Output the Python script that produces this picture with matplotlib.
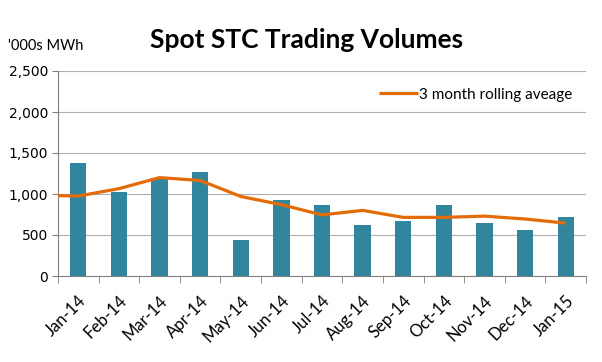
import matplotlib.pyplot as plt
import numpy as np

months = ['Jan-14', 'Feb-14', 'Mar-14', 'Apr-14', 'May-14', 'Jun-14', 'Jul-14',
          'Aug-14', 'Sep-14', 'Oct-14', 'Nov-14', 'Dec-14', 'Jan-15']
volumes = [1380, 1030, 1190, 1270, 440, 930, 870, 625, 675, 870, 650, 565, 720]
rolling_avg = [975, 1065, 1200, 1165, 970, 870, 745, 800, 715, 715, 730, 695, 645]
avg_at_axis_edge = 980  # line starts at the left axis edge
y_ticks = [0, 500, 1000, 1500, 2000, 2500]

fig = plt.figure(figsize=(6.02, 3.62), dpi=100)
ax = fig.add_axes([58 / 602, 1 - 276 / 362, 528 / 602, 205 / 362])

x = np.arange(len(months))
ax.bar(x, volumes, width=0.4, color='#31859C', zorder=2)

line_x = np.concatenate([[-0.5], x])
line_y = [avg_at_axis_edge] + rolling_avg
ax.plot(line_x, line_y, color='#E36C09', linewidth=2.3, zorder=3,
        label='3 month rolling aveage', solid_capstyle='butt')

ax.set_xlim(-0.5, len(months) - 0.5)
ax.set_ylim(0, 2500)
ax.set_yticks(y_ticks)
ax.set_yticklabels([f'{v:,}' for v in y_ticks], family='DejaVu Sans', fontsize=10)
ax.yaxis.grid(True, color='#b0b0b0', linewidth=0.8, zorder=0)
ax.set_axisbelow(True)
ax.tick_params(axis='y', length=4, color='#808080', pad=3)

ax.set_xticks(x)
ax.set_xticklabels(months, rotation=45, ha='right', rotation_mode='anchor',
                   family='Lato', fontsize=12)
ax.set_xticks(np.arange(-0.5, len(months)), minor=True)
ax.tick_params(axis='x', which='major', length=0, pad=12)
ax.tick_params(axis='x', which='minor', length=5, color='#808080', direction='out')

for side in ['top', 'right']:
    ax.spines[side].set_visible(False)
for side in ['left', 'bottom']:
    ax.spines[side].set_color('#808080')
    ax.spines[side].set_linewidth(0.8)

leg = ax.legend(loc='upper right', frameon=False, prop={'family': 'Lato', 'size': 11},
                handlelength=2.6, handletextpad=0.05, bbox_to_anchor=(1.0, 0.985))

fig.text(307 / 602, 1 - 40 / 362, 'Spot STC Trading Volumes', ha='center', va='center',
         family='Lato', fontweight='bold', fontsize=19)
fig.text(8 / 602, 1 - 46 / 362, "'000s MWh", ha='left', va='center',
         family='Lato', fontsize=10.5)

fig.savefig('out.png', dpi=100)
